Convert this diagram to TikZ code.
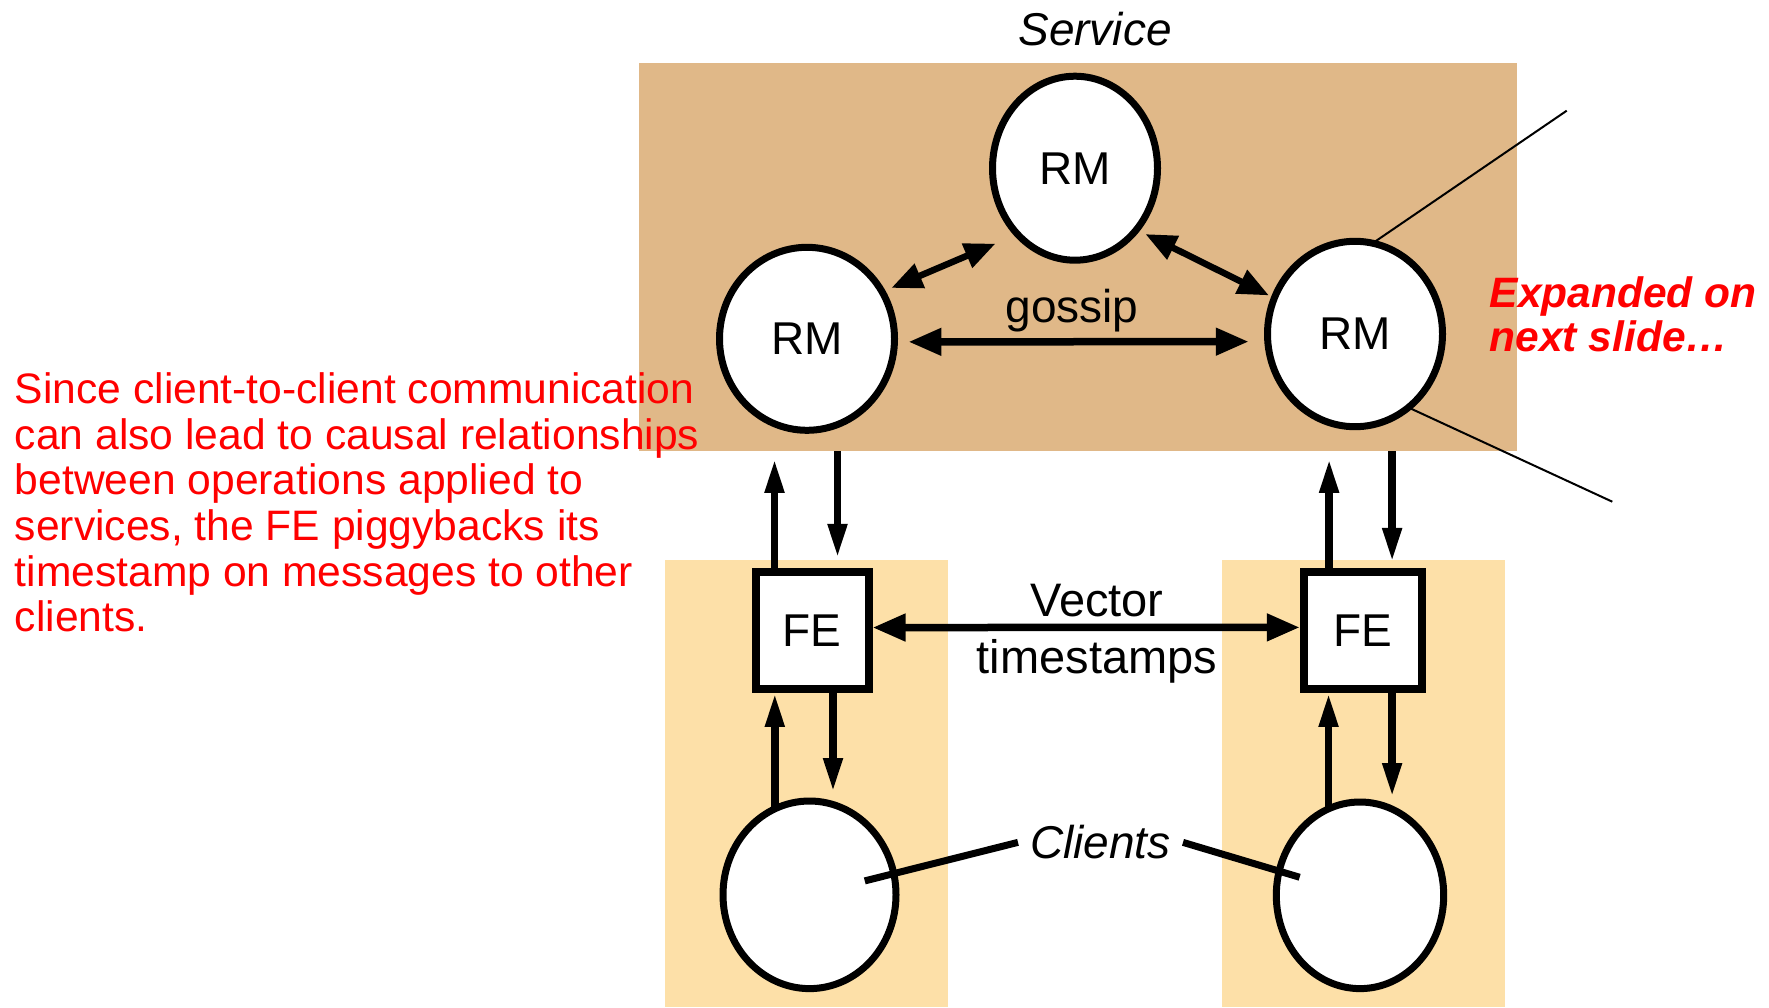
\documentclass[tikz,border=0pt]{standalone}
\usepackage{fontspec}
\setmainfont{Liberation Sans}
\usetikzlibrary{arrows.meta,shapes.geometric,calc}

\definecolor{servicetan}{RGB}{224,184,136}
\definecolor{clientpale}{RGB}{253,224,168}
\definecolor{noteRed}{RGB}{255,0,0}

\begin{document}
\begin{tikzpicture}[x=1pt,y=-1pt,
  lbl/.style={font=\fontsize{46}{52}\selectfont, inner sep=0pt},
  lblit/.style={font=\fontsize{46}{52}\selectfont\itshape, inner sep=0pt},
  replica/.style={ellipse, draw, line width=7pt, fill=white, inner sep=0pt,
    outer sep=0pt, font=\fontsize{46}{52}\selectfont},
  frontend/.style={rectangle, draw, line width=8pt, fill=white, inner sep=0pt,
    minimum height=116.5pt, font=\fontsize{46}{52}\selectfont},
  client/.style={ellipse, draw, line width=7pt, fill=white, inner sep=0pt,
    outer sep=0pt},
  widetip/.tip={Triangle[length=33pt,width=26pt]},
  midtip/.tip={Triangle[length=31pt,width=25pt]},
  slimtip/.tip={Triangle[length=34pt,width=18pt]},
  horiz/.style={line width=7.5pt, {widetip}-{widetip}},
  diag/.style={line width=6.5pt, {midtip}-{midtip}},
  vert/.style={line width=7.5pt, -{slimtip}},
  pointer/.style={line width=7pt},
  zoomline/.style={line width=2pt},
  note/.style={text=noteRed, align=left, anchor=north west, inner sep=0pt}
]
\useasboundingbox (0,0) rectangle (1769,1007);

% service and client backgrounds
\node[fill=servicetan, inner sep=0pt, outer sep=0pt, minimum width=878.8pt,
  minimum height=388.1pt, anchor=north west] (svc) at (638.6,63.2) {};
\fill[clientpale] (664.5,559.6) rectangle (947.7,1007);
\fill[clientpale] (1221.8,559.6) rectangle (1505,1007);

% labels
\node[lblit, anchor=base] (svcLbl) at (1095,45) {Service};
\node[lbl, anchor=base] (gossip) at (1072,322) {gossip};
\node[lbl, align=center, font=\fontsize{47}{57}\selectfont] (vts) at (1097,634.1)
  {Vector\\timestamps};
\node[lblit, anchor=base, inner xsep=12pt] (clients) at (1100.5,858.8) {Clients};

% replica managers
\node[replica, minimum width=165pt, minimum height=184pt] (rmT) at (1075,168.2) {RM};
\node[replica, minimum width=175pt, minimum height=183pt] (rmL) at (807,338.8) {RM};
\node[replica, minimum width=175pt, minimum height=185.4pt] (rmR) at (1355,334) {RM};

% front ends
\node[frontend, minimum width=113pt] (feL) at (812,630.7) {FE};
\node[frontend, minimum width=118.6pt] (feR) at (1363.1,630.7) {FE};

% clients
\node[client, minimum width=173pt, minimum height=187.6pt] (clL) at (809.5,894.8) {};
\node[client, minimum width=167.4pt, minimum height=186.6pt] (clR) at (1360,895.3) {};

% gossip between replica managers
\draw[diag, shorten <=10pt, shorten >=24pt] (rmL.32) -- (rmT.229);
\draw[diag, shorten <=10pt, shorten >=6pt] (rmT.315) -- (rmR.156);
\draw[horiz, shorten <=14pt, shorten >=19pt] (rmL.358) -- (rmR.185);

% front end to service
\draw[vert, shorten >=7.5pt] ([xshift=-37.5pt]feL.north) -- ([xshift=-37.5pt]feL.north |- svc.south);
\draw[vert, shorten >=10.5pt] ([xshift=25.5pt]feL.north |- svc.south) -- ([xshift=25.5pt]feL.north);
\draw[vert, shorten >=7.5pt] ([xshift=-34pt]feR.north) -- ([xshift=-34pt]feR.north |- svc.south);
\draw[vert, shorten >=6.5pt] ([xshift=29pt]feR.north |- svc.south) -- ([xshift=29pt]feR.north);

% client to front end
\draw[vert] (clL.112) -- (clL.112 |- feL.south);
\draw[vert, shorten >=9pt] ([xshift=21pt]feL.south) -- ([xshift=21pt]feL.south |- clL.north);
\draw[vert] (clR.110) -- (clR.110 |- feR.south);
\draw[vert, shorten >=5pt] ([xshift=29pt]feR.south) -- ([xshift=29pt]feR.south |- clR.north);

% vector timestamps between front ends
\draw[horiz] (feL.3) -- (feR.177);

% pointers from the clients label
\draw[pointer, shorten >=57pt] (clients.west) -- (clL.center);
\draw[pointer, shorten >=63pt] (clients.east) -- (clR.center);

% zoom lines to the expanded replica manager
\coordinate (zoomTop) at (1566.7,110.7);
\coordinate (zoomBot) at (1612.3,501.7);
\draw[zoomline] (rmR.79) -- (zoomTop);
\draw[zoomline] (rmR.306) -- (zoomBot);

% notes
\node[note, font=\bfseries\itshape\fontsize{42.5}{44}\selectfont] (nextNote)
  at (1489.5,276.3) {Expanded on\\next slide…};
\node[note, font=\fontsize{42.6}{45.7}\selectfont] (causalNote) at (14.7,372.3)
  {Since client-to-client communication\\
   can also lead to causal relationships\\
   between operations applied to\\
   services, the FE piggybacks its\\
   timestamp on messages to other\\
   clients.};
\end{tikzpicture}
\end{document}
